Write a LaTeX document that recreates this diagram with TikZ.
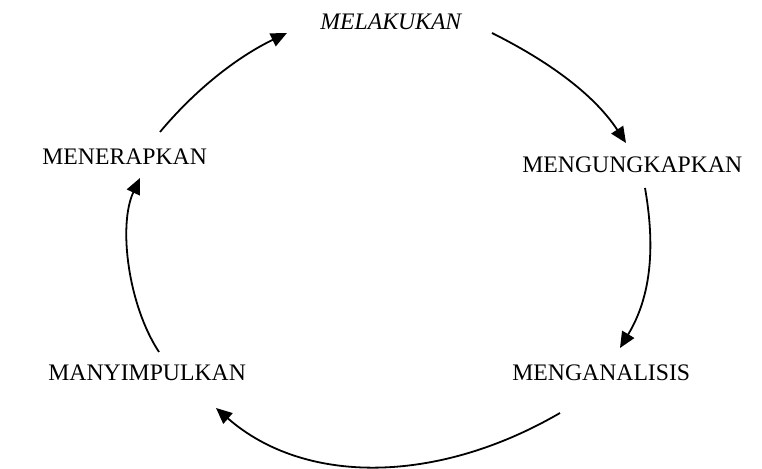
\documentclass[tikz,border=0pt]{standalone}
\usepackage{fontspec}
\setmainfont{Liberation Serif}
\usetikzlibrary{arrows.meta}
\tikzset{
  lbl/.style = {anchor=base west, inner sep=0pt, font=\fontsize{11.85}{14}\selectfont},
  ilbl/.style = {lbl, font=\fontsize{11.85}{14}\selectfont\itshape},
  cyc/.style = {-{Triangle[length=8pt,width=7pt]}, line width=0.9pt},
}
\begin{document}
\begin{tikzpicture}[x=0.5pt, y=-0.5pt]
  \useasboundingbox (0,0) rectangle (762,469);
  % steps of the cycle
  \node[ilbl] (mel)   at (320,30)  {MELAKUKAN};
  \node[lbl]  (ungk)  at (522,173) {MENGUNGKAPKAN};
  \node[lbl]  (anal)  at (512,381) {MENGANALISIS};
  \node[lbl]  (simp)  at (48,381)  {MANYIMPULKAN};
  \node[lbl]  (terap) at (42,165)  {MENERAPKAN};

  % ends of the arrows
  \coordinate (mel-o)   at (492,33);
  \coordinate (ungk-i)  at (626,143);
  \coordinate (ungk-o)  at (645,188);
  \coordinate (anal-i)  at (620,348);
  \coordinate (anal-o)  at (560,413);
  \coordinate (simp-i)  at (216,408);
  \coordinate (simp-o)  at (159,352);
  \coordinate (terap-i) at (140,178);
  \coordinate (terap-o) at (160,132);
  \coordinate (mel-i)   at (287,33);

  \draw[cyc] (mel-o) .. controls (546,60) and (593,93) .. (ungk-i);
  \draw[cyc] (ungk-o) .. controls (655,245) and (652,295) .. (anal-i);
  \draw[cyc] (anal-o) .. controls (436,485) and (304,485) .. (simp-i);
  \draw[cyc] (simp-o) .. controls (128,305) and (118,225) .. (terap-i);
  \draw[cyc] (terap-o) .. controls (195,90) and (237,57) .. (mel-i);
\end{tikzpicture}
\end{document}
